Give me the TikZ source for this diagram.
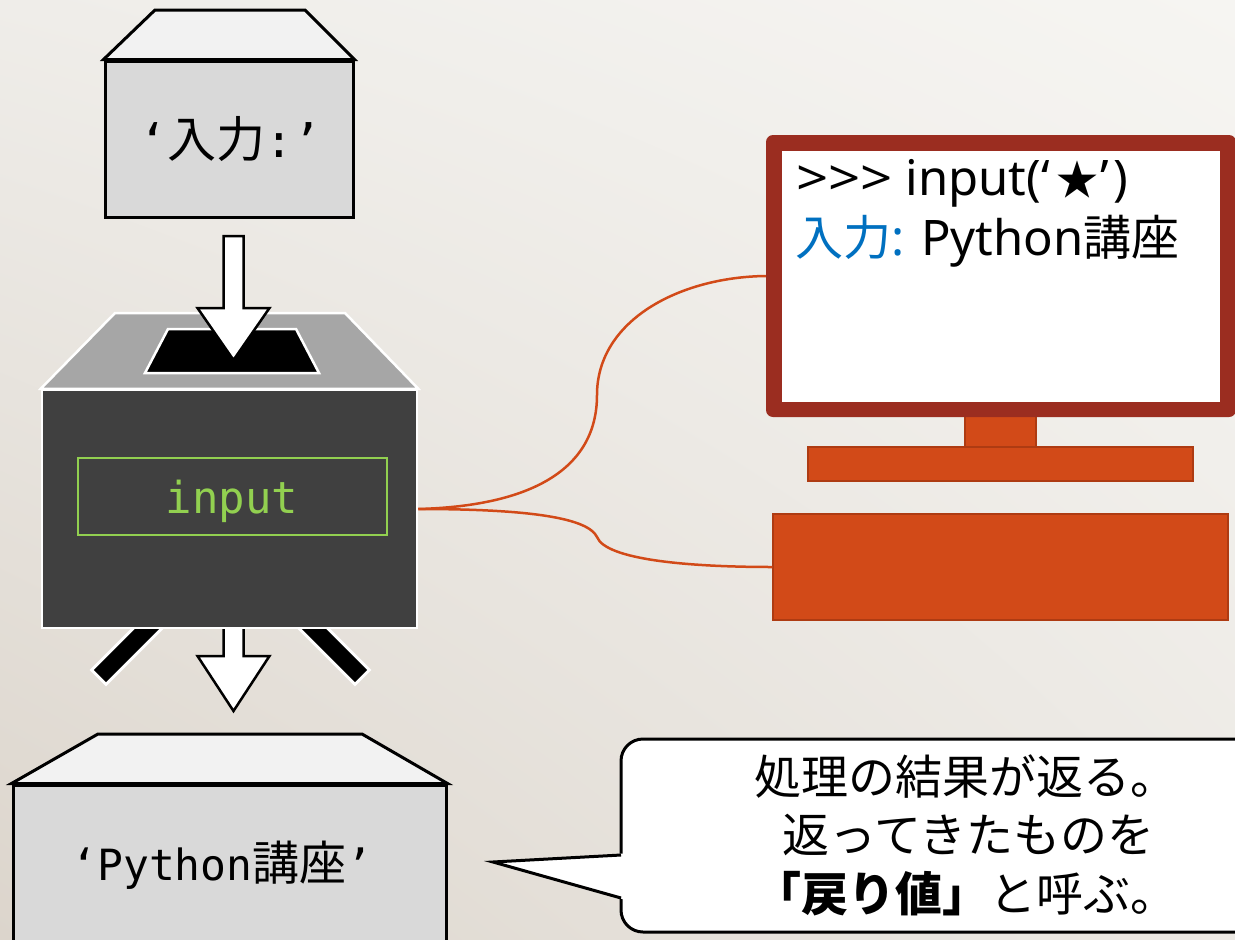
\documentclass[tikz,border=0pt]{standalone}
\usepackage{fontspec}
\usepackage{graphicx}
\setmainfont{Noto Sans CJK JP}
\newfontfamily\cjk{Noto Sans CJK JP}
\newfontfamily\mono{DejaVu Sans Mono}
\newfontfamily\ui{Noto Sans}
\usetikzlibrary{calc,shadings}

\definecolor{bgUL}{HTML}{EFEDE9}
\definecolor{bgUR}{HTML}{F6F5F2}
\definecolor{bgLL}{HTML}{DCD5CC}
\definecolor{bgLR}{HTML}{ECE9E4}
\definecolor{crategray}{HTML}{D9D9D9}
\definecolor{lidgray}{HTML}{F2F2F2}
\definecolor{funcgray}{HTML}{404040}
\definecolor{funclid}{HTML}{A6A6A6}
\definecolor{codegreen}{HTML}{92D050}
\definecolor{framered}{HTML}{9B2D20}
\definecolor{hwfill}{HTML}{D24A18}
\definecolor{hwedge}{HTML}{AE3B12}
\definecolor{inblue}{HTML}{0070C0}

% wide prompt character
\newcommand\promptchar{\scalebox{1.15}[1]{>}}

\tikzset{
  crate/.style={draw=black, line width=3pt, fill=crategray, inner sep=0pt},
  crate lid/.style={draw=black, line width=3pt, fill=lidgray, line join=miter},
  func body/.style={draw=white, line width=2.5pt, fill=funcgray, inner sep=0pt},
  func lid/.style={draw=white, line width=2.5pt, fill=funclid, line join=miter},
  func slot/.style={draw=white, line width=2.5pt, fill=black, line join=miter},
  fatarrow/.style={draw=black, line width=2.5pt, fill=white, line join=miter},
  leg edge/.style={draw=white, line width=23pt, shorten >=-3pt},
  leg/.style={draw=black, line width=17pt},
  cable/.style={draw=hwfill, line width=2.5pt},
  hw/.style={fill=hwfill, draw=hwedge, line width=1.5pt, inner sep=0pt},
  bubble/.style={draw=black, line width=3pt, fill=white},
  screen text/.style={anchor=base west, inner sep=0pt, font=\ui\fontsize{49pt}{54pt}\selectfont},
  crate text/.style={anchor=base, inner sep=0pt},
}

\begin{document}
\begin{tikzpicture}[x=1pt,y=-1pt]
  \useasboundingbox (0,0) rectangle (1235,940);
  \clip (0,0) rectangle (1235,940);

  % backdrop
  \shade[upper left=bgUL, upper right=bgUR, lower left=bgLL, lower right=bgLR]
    (0,0) rectangle (1235,940);

  % computer: monitor, stand and tower
  \filldraw[hw] (965,410) rectangle (1036,449);
  \filldraw[hw] (808,447) rectangle (1193,481);
  \node[fill=framered, rounded corners=7pt, minimum width=470pt, minimum height=282pt, inner sep=0pt] (screen) at (1001,276) {};
  \node[fill=white, minimum width=438pt, minimum height=251pt, inner sep=0pt] (glass) at (1001,276.5) {};
  \node[hw, minimum width=455pt, minimum height=106pt] (tower) at (1000.5,567) {};

  \node[screen text] (prompt) at (796,195)
    {\promptchar\promptchar\promptchar{} input(‘\kern7pt{\cjk\fontsize{42pt}{52pt}\selectfont ★}\kern2pt’\kern4pt)};
  \node[screen text] (reply) at (795,255)
    {{\color{inblue}{\cjk\fontsize{48pt}{54pt}\selectfont 入力}:} Python{\cjk\fontsize{48pt}{54pt}\selectfont 講座}};

  % function box wired to the computer
  \coordinate (bendA) at (597,395);
  \coordinate (bendB) at (597,537);

  % legs under the function box
  \draw[leg edge] (166,610) -- (100,676);
  \draw[leg] (166,610) -- (100,676);
  \draw[leg edge] (295,610) -- (361,676);
  \draw[leg] (295,610) -- (361,676);

  % result arrow
  \draw[fatarrow] (223.5,620) -- (243.5,620) -- (243.5,656) -- (269.5,656) -- (233.5,711)
    -- (197.5,656) -- (223.5,656) -- cycle;

  \node[func body, minimum width=375pt, minimum height=238pt] (func) at (229.5,509) {};
  \draw[cable] (func.east) .. controls (530,506) and (597,470) .. (bendA)
    .. controls (597,320) and (680,277) .. (screen.west);
  \draw[cable] (func.east) .. controls (530,509) and (588,518) .. (bendB)
    .. controls (606,560) and (690,567) .. (tower.west);

  \draw[func lid] (func.north west) -- (115,313) -- (345,313) -- (func.north east) -- cycle;
  \draw[func slot] (168,329) -- (296,329) -- (319,373) -- (145,373) -- cycle;
  \node[draw=codegreen, line width=1.5pt, minimum width=309pt, minimum height=77pt, inner sep=0pt] (fframe) at (232.5,496.5) {};
  \node[anchor=base, inner sep=0pt, text=codegreen, font=\mono\fontsize{44pt}{46pt}\selectfont] (fname) at (232,513) {input};

  % argument box
  \node[crate, minimum width=248pt, minimum height=156pt] (inbox) at (229,139) {};
  \draw[crate lid] (inbox.north west) -- (155,10) -- (305,10) -- (inbox.north east) -- cycle;
  \node[crate text, font=\mono\fontsize{46pt}{50pt}\selectfont] (inlabel) at (230.5,157)
    {‘{\cjk\fontsize{49pt}{50pt}\selectfont 入力}:’};

  % argument arrow into the slot
  \draw[fatarrow] (223.5,236) -- (243.5,236) -- (243.5,308) -- (269.5,308) -- (233.5,360)
    -- (197.5,308) -- (223.5,308) -- cycle;

  % return value box
  \node[crate, minimum width=433pt, minimum height=200pt] (outbox) at (229.5,885) {};
  \draw[crate lid] (outbox.north west) -- (98,734) -- (362,734) -- (outbox.north east) -- cycle;
  \node[crate text, font=\mono\fontsize{43pt}{50pt}\selectfont] (outlabel) at (222,880)
    {‘Python{\cjk\fontsize{47pt}{50pt}\selectfont 講座}’};

  % speech bubble
  \coordinate (tip) at (493,862);
  \draw[bubble, rounded corners=22pt] (621,739) rectangle (1262,932);
  \fill[white] (624,853.5) -- (tip) -- (624,899.5) -- cycle;
  \draw[draw=black, line width=3pt, line join=miter] (621,855) -- (tip) -- (621,898);
  \node[align=center, inner sep=0pt, font=\cjk\fontsize{47pt}{58.5pt}\selectfont] (note) at (965.5,835)
    {処理の結果が返る。\\\hspace*{6pt}返ってきたものを\\{\bfseries 「戻り値」}と呼ぶ。};
\end{tikzpicture}
\end{document}
